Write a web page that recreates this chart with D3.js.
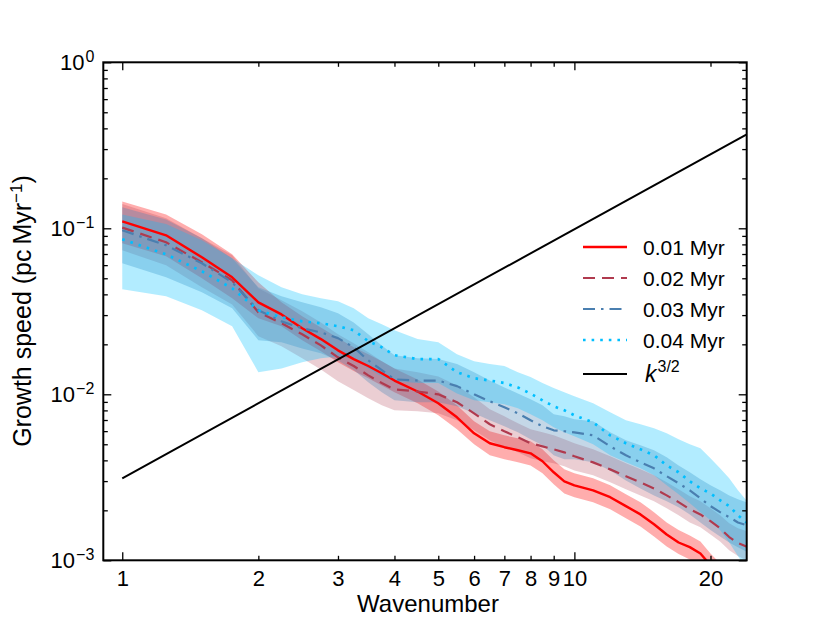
<!DOCTYPE html>
<html>
<head>
<meta charset="utf-8">
<script src="https://cdn.jsdelivr.net/npm/d3@7"></script>
<style>
  html, body { margin: 0; padding: 0; background: #ffffff; }
  svg { display: block; }
  text { font-family: "Liberation Sans", Arial, Helvetica, sans-serif; fill: #000; }
</style>
</head>
<body>
<svg id="chart" width="830" height="623"></svg>
<script>
// ---------------- data ----------------
const wavenumber = [1,1.25,1.5,1.75,2,2.25,2.5,2.75,3,3.25,3.5,3.75,4,4.5,5,5.5,6,6.5,7,7.5,8,8.5,9,9.5,10,11,12,13,14,15,16,17,18,19,20,21,22,23,24];

const speed001 = [0.110,0.0907,0.0669,0.0507,0.0358,0.0303,0.0250,0.0215,0.0184,0.0163,0.0148,0.0134,0.0121,0.0104,0.00883,0.00727,0.00582,0.00507,0.00480,0.00460,0.00441,0.00395,0.00339,0.00299,0.00283,0.00264,0.00240,0.00212,0.00189,0.00165,0.00143,0.00128,0.00120,0.00110,0.000933,0.000812,0.000707,0.000616,0.000536];
const speed001Hi = [0.145,0.121,0.0920,0.0697,0.0473,0.0358,0.0295,0.0253,0.0218,0.0192,0.0174,0.0158,0.0143,0.0123,0.0104,0.00859,0.00688,0.00599,0.00566,0.00543,0.00521,0.00466,0.00400,0.00353,0.00334,0.00312,0.00283,0.00250,0.00224,0.00195,0.00169,0.00152,0.00141,0.00130,0.00110,0.000959,0.000835,0.000727,0.000633];
const speed001Lo = [0.0812,0.0678,0.0500,0.0379,0.0287,0.0257,0.0212,0.0182,0.0156,0.0138,0.0125,0.0113,0.0103,0.00883,0.00747,0.00616,0.00500,0.00429,0.00406,0.00389,0.00373,0.00334,0.00287,0.00253,0.00240,0.00224,0.00203,0.00179,0.00160,0.00139,0.00121,0.00109,0.00101,0.000933,0.000790,0.000688,0.000599,0.000521,0.000454];

const speed002 = [0.101,0.0824,0.0624,0.0486,0.0312,0.0268,0.0230,0.0197,0.0167,0.0148,0.0130,0.0117,0.0107,0.0104,0.0100,0.00895,0.00768,0.00660,0.00599,0.00551,0.00507,0.00486,0.00466,0.00447,0.00423,0.00389,0.00353,0.00321,0.00295,0.00271,0.00246,0.00224,0.00203,0.00189,0.00172,0.00156,0.00138,0.00127,0.00121];
const speed002Hi = [0.140,0.115,0.0871,0.0688,0.0435,0.0368,0.0316,0.0271,0.0230,0.0203,0.0179,0.0158,0.0143,0.0136,0.0128,0.0113,0.00959,0.00812,0.00737,0.00669,0.00616,0.00590,0.00566,0.00536,0.00507,0.00466,0.00423,0.00384,0.00353,0.00325,0.00295,0.00268,0.00243,0.00227,0.00206,0.00187,0.00167,0.00156,0.00150];
const speed002Lo = [0.0737,0.0599,0.0441,0.0348,0.0224,0.0195,0.0165,0.0141,0.0120,0.0106,0.00946,0.00859,0.00801,0.00790,0.00768,0.00697,0.00607,0.00528,0.00480,0.00447,0.00412,0.00395,0.00384,0.00368,0.00348,0.00325,0.00295,0.00268,0.00246,0.00227,0.00206,0.00187,0.00169,0.00158,0.00143,0.00130,0.00115,0.00106,0.00100];

const speed003 = [0.0973,0.0790,0.0616,0.0473,0.0321,0.0275,0.0250,0.0236,0.0218,0.0192,0.0160,0.0140,0.0123,0.0121,0.0121,0.0112,0.0100,0.00907,0.00835,0.00768,0.00697,0.00642,0.00607,0.00599,0.00590,0.00566,0.00486,0.00429,0.00389,0.00358,0.00321,0.00291,0.00264,0.00236,0.00212,0.00195,0.00182,0.00169,0.00163];
const speed003Hi = [0.134,0.113,0.0871,0.0660,0.0441,0.0389,0.0358,0.0334,0.0308,0.0271,0.0230,0.0197,0.0172,0.0165,0.0163,0.0152,0.0136,0.0121,0.0110,0.0101,0.00933,0.00859,0.00758,0.00737,0.00707,0.00688,0.00590,0.00528,0.00493,0.00460,0.00417,0.00373,0.00339,0.00308,0.00283,0.00264,0.00246,0.00233,0.00224];
const speed003Lo = [0.0616,0.0507,0.0412,0.0330,0.0212,0.0206,0.0189,0.0177,0.0160,0.0140,0.0118,0.0103,0.00920,0.00895,0.00895,0.00847,0.00768,0.00697,0.00642,0.00590,0.00536,0.00493,0.00429,0.00406,0.00406,0.00389,0.00348,0.00303,0.00271,0.00246,0.00227,0.00209,0.00189,0.00169,0.00152,0.00139,0.00128,0.00120,0.00113];

const speed004 = [0.0859,0.0697,0.0551,0.0435,0.0321,0.0291,0.0275,0.0268,0.0257,0.0243,0.0209,0.0192,0.0172,0.0163,0.0163,0.0136,0.0125,0.0121,0.0117,0.0110,0.0101,0.00920,0.00847,0.00801,0.00747,0.00678,0.00566,0.00507,0.00466,0.00429,0.00373,0.00339,0.00299,0.00271,0.00253,0.00230,0.00212,0.00187,0.00169];
const speed004Hi = [0.121,0.106,0.0847,0.0660,0.0521,0.0441,0.0400,0.0379,0.0363,0.0330,0.0287,0.0264,0.0243,0.0215,0.0206,0.0174,0.0158,0.0152,0.0148,0.0136,0.0127,0.0117,0.0109,0.0103,0.00973,0.00883,0.00779,0.00697,0.00660,0.00624,0.00582,0.00536,0.00500,0.00473,0.00412,0.00358,0.00312,0.00264,0.00230];
const speed004Lo = [0.0429,0.0389,0.0321,0.0257,0.0136,0.0143,0.0156,0.0165,0.0169,0.0165,0.0143,0.0128,0.0120,0.0117,0.0117,0.0101,0.00920,0.00895,0.00871,0.00824,0.00758,0.00697,0.00633,0.00590,0.00558,0.00500,0.00429,0.00389,0.00358,0.00325,0.00283,0.00250,0.00221,0.00195,0.00174,0.00152,0.00128,0.00106,0.000895];

// reference power law k^{3/2}
const powerLawK = [1, 24];
const powerLawV = [0.00312, 0.367];

const seriesNames = ["0.01 Myr", "0.02 Myr", "0.03 Myr", "0.04 Myr"];

const xTickLabels = [1,2,3,4,5,6,7,8,9,10,20];
const xMajorTicks = [1,10];
const xMinorTicks = [2,3,4,5,6,7,8,9,20];
const yMajorTicks = [1, 0.1, 0.01, 0.001];
const yTickExponents = ["0", "\u22121", "\u22122", "\u22123"];
const yMinorTicks = [0.2,0.3,0.4,0.5,0.6,0.7,0.8,0.9,0.02,0.03,0.04,0.05,0.06,0.07,0.08,0.09,0.002,0.003,0.004,0.005,0.006,0.007,0.008,0.009];

// ---------------- styles ----------------
const styles = [
  { color: "#ff0000", dash: null, width: 2.4, band: "#ff0000", bandOpacity: 0.32 },
  { color: "#b03a4e", dash: "12,7", width: 2.2, band: "#b03a4e", bandOpacity: 0.25 },
  { color: "#4a7fb0", dash: "12,6,2.5,6", width: 2.2, band: "#4682b4", bandOpacity: 0.32 },
  { color: "#00bfff", dash: "2.6,6", width: 2.7, band: "#00bfff", bandOpacity: 0.3 }
];

const series = [
  { name: seriesNames[0], mid: speed001, lo: speed001Lo, hi: speed001Hi },
  { name: seriesNames[1], mid: speed002, lo: speed002Lo, hi: speed002Hi },
  { name: seriesNames[2], mid: speed003, lo: speed003Lo, hi: speed003Hi },
  { name: seriesNames[3], mid: speed004, lo: speed004Lo, hi: speed004Hi }
];

// ---------------- layout ----------------
const L = 103.3, R = 746.7, T = 62.3, B = 560.3;
const svg = d3.select("#chart");
const FONT = "'Liberation Sans', Arial, Helvetica, sans-serif";

const x = d3.scaleLog().domain([0.908, 24.05]).range([L, R]);
const y = d3.scaleLog().domain([1e-3, 1]).range([B, T]);

svg.append("defs").append("clipPath").attr("id", "plotclip")
  .append("rect").attr("x", L).attr("y", T).attr("width", R - L).attr("height", B - T);

const plot = svg.append("g").attr("clip-path", "url(#plotclip)");

const area = (s) => d3.area()
  .x((d, i) => x(wavenumber[i]))
  .y0((d, i) => y(s.lo[i]))
  .y1((d, i) => y(s.hi[i]))(wavenumber);

const line = (vals) => d3.line()
  .x((d, i) => x(wavenumber[i]))
  .y((d, i) => y(vals[i]))(wavenumber);

// bands
series.forEach((s, j) => {
  plot.append("path").attr("d", area(s))
    .attr("fill", styles[j].band).attr("fill-opacity", styles[j].bandOpacity)
    .attr("stroke", "none");
});
// lines
series.forEach((s, j) => {
  plot.append("path").attr("d", line(s.mid))
    .attr("fill", "none").attr("stroke", styles[j].color)
    .attr("stroke-width", styles[j].width)
    .attr("stroke-dasharray", styles[j].dash)
    .attr("stroke-linejoin", "round");
});
// power law
plot.append("path")
  .attr("d", d3.line().x((d, i) => x(powerLawK[i])).y((d, i) => y(powerLawV[i]))(powerLawK))
  .attr("fill", "none").attr("stroke", "#000").attr("stroke-width", 2);

// ---------------- axes ----------------
function styleAxis(g) {
  g.select(".domain").remove();
  g.selectAll(".tick line").attr("stroke", "#000").attr("stroke-width", 1.3);
  g.selectAll("text").attr("font-family", FONT);
}
// bottom
svg.append("g").attr("transform", `translate(0,${B})`)
  .call(d3.axisBottom(x).tickValues(xMajorTicks).tickSize(-8).tickFormat(""))
  .call(styleAxis);
svg.append("g").attr("transform", `translate(0,${B})`)
  .call(d3.axisBottom(x).tickValues(xMinorTicks).tickSize(-4.5).tickFormat(""))
  .call(styleAxis);
svg.append("g").attr("transform", `translate(0,${B})`)
  .call(d3.axisBottom(x).tickValues(xTickLabels).tickSize(0).tickPadding(10).tickFormat(d3.format("d")))
  .call(styleAxis)
  .call(g => g.selectAll("text").attr("font-size", 22));
// top
svg.append("g").attr("transform", `translate(0,${T})`)
  .call(d3.axisTop(x).tickValues(xMajorTicks).tickSize(-8).tickFormat(""))
  .call(styleAxis);
svg.append("g").attr("transform", `translate(0,${T})`)
  .call(d3.axisTop(x).tickValues(xMinorTicks).tickSize(-4.5).tickFormat(""))
  .call(styleAxis);
// left
svg.append("g").attr("transform", `translate(${L},0)`)
  .call(d3.axisLeft(y).tickValues(yMajorTicks).tickSize(-8).tickFormat(""))
  .call(styleAxis);
svg.append("g").attr("transform", `translate(${L},0)`)
  .call(d3.axisLeft(y).tickValues(yMinorTicks).tickSize(-4.5).tickFormat(""))
  .call(styleAxis);
const yLab = svg.append("g").attr("transform", `translate(${L},0)`)
  .call(d3.axisLeft(y).tickValues(yMajorTicks).tickSize(0).tickPadding(9).tickFormat(""))
  .call(styleAxis);
yLab.selectAll(".tick text").each(function(d, i) {
  const t = d3.select(this).attr("font-size", 22).attr("dy", "0.34em");
  t.append("tspan").text("10");
  t.append("tspan").attr("font-size", 16).attr("dy", "-0.5em").attr("dx", 1).text(yTickExponents[i]);
});
// right
svg.append("g").attr("transform", `translate(${R},0)`)
  .call(d3.axisRight(y).tickValues(yMajorTicks).tickSize(-8).tickFormat(""))
  .call(styleAxis);
svg.append("g").attr("transform", `translate(${R},0)`)
  .call(d3.axisRight(y).tickValues(yMinorTicks).tickSize(-4.5).tickFormat(""))
  .call(styleAxis);

// frame
svg.append("rect").attr("x", L).attr("y", T).attr("width", R - L).attr("height", B - T)
  .attr("fill", "none").attr("stroke", "#000").attr("stroke-width", 2);

// axis titles
svg.append("text").attr("x", (L + R) / 2 + 3).attr("y", 612)
  .attr("text-anchor", "middle").attr("font-size", 24).attr("font-family", FONT)
  .text("Wavenumber");
const yt = svg.append("text")
  .attr("transform", "translate(31,311) rotate(-90)")
  .attr("text-anchor", "middle").attr("font-size", 25).attr("font-family", FONT);
yt.append("tspan").text("Growth speed (pc\u2009Myr");
yt.append("tspan").attr("font-size", 17).attr("dy", "-0.55em").text("\u22121");
yt.append("tspan").attr("dy", "0.38em").text(")");

// ---------------- legend ----------------
const legendRows = [247, 278, 309, 340, 374];
const leg = svg.append("g");
series.forEach((s, j) => {
  leg.append("line").attr("x1", 583).attr("x2", 627)
    .attr("y1", legendRows[j]).attr("y2", legendRows[j])
    .attr("stroke", styles[j].color).attr("stroke-width", styles[j].width)
    .attr("stroke-dasharray", styles[j].dash);
  leg.append("text").attr("x", 643).attr("y", legendRows[j] + 7.5)
    .attr("font-size", 21).attr("font-family", FONT).text(s.name);
});
leg.append("line").attr("x1", 583).attr("x2", 627)
  .attr("y1", legendRows[4]).attr("y2", legendRows[4])
  .attr("stroke", "#000").attr("stroke-width", 2);
const kt = leg.append("text").attr("x", 645).attr("y", legendRows[4] + 8)
  .attr("font-size", 23).attr("font-family", FONT);
kt.append("tspan").attr("font-style", "italic").text("k");
kt.append("tspan").attr("font-size", 16).attr("dy", "-0.6em").attr("dx", 1).text("3/2");
</script>
</body>
</html>
